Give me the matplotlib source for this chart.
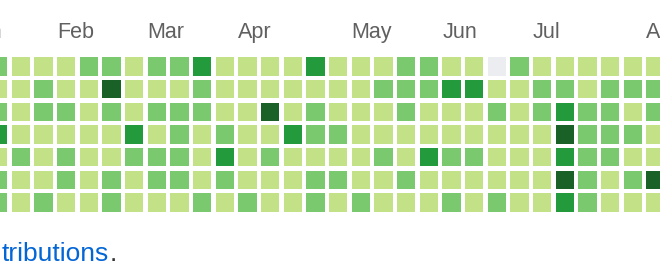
import matplotlib
matplotlib.use("Agg")
import matplotlib.pyplot as plt
import numpy as np

# contribution levels per week column (Sun..Sat rows), 0 = none .. 4 = most
weeks = [
    [2, 1, 2, 3, 1, 2, 2],
    [1, 1, 1, 1, 2, 1, 1],
    [1, 2, 2, 1, 1, 1, 2],
    [1, 1, 2, 1, 2, 2, 1],
    [2, 1, 1, 1, 1, 1, 1],
    [2, 4, 2, 1, 1, 2, 2],
    [1, 1, 1, 3, 2, 1, 1],
    [2, 1, 2, 1, 2, 2, 1],
    [2, 1, 2, 2, 2, 2, 1],
    [3, 2, 2, 1, 1, 1, 2],
    [1, 1, 1, 2, 3, 2, 1],
    [1, 1, 1, 1, 1, 1, 2],
    [1, 1, 4, 1, 2, 1, 1],
    [1, 1, 1, 3, 1, 1, 1],
    [3, 1, 2, 2, 1, 2, 2],
    [1, 1, 1, 2, 1, 2, 1],
    [1, 1, 1, 1, 1, 1, 2],
    [1, 2, 1, 1, 2, 1, 1],
    [2, 2, 2, 1, 1, 2, 1],
    [2, 2, 1, 1, 3, 1, 1],
    [1, 3, 1, 1, 2, 1, 2],
    [1, 3, 1, 1, 2, 1, 1],
    [0, 1, 2, 1, 1, 1, 2],
    [2, 1, 1, 1, 1, 1, 1],
    [1, 2, 2, 1, 1, 1, 1],
    [1, 2, 3, 4, 3, 4, 3],
    [1, 1, 2, 2, 2, 2, 2],
    [1, 2, 2, 2, 2, 1, 1],
    [1, 2, 1, 2, 1, 2, 1],
    [1, 2, 2, 1, 1, 4, 1],
]
month_labels = ["Jan", "Feb", "Mar", "Apr", "May", "Jun", "Jul", "Aug"]
month_weeks = [-0.95, 3, 7, 11, 16, 20, 24, 29]
level_colors = ["#ebedf0", "#c3e287", "#7bc96f", "#239a3b", "#196127"]

fig = plt.figure(figsize=(6.6, 2.8), dpi=100)
ax = fig.add_axes([0, 0, 1, 1])
ax.set_xlim(0.485, 29.603)
ax.set_ylim(9.825, -2.53)
ax.axis("off")

levels = np.array(weeks)
cols, rows = np.meshgrid(np.arange(levels.shape[0]), np.arange(levels.shape[1]), indexing="ij")
cell = 0.81
ax.bar(cols.ravel(), cell, width=cell, bottom=rows.ravel(), align="edge",
       color=[level_colors[v] for v in levels.ravel()], linewidth=0)

for lab, wk in zip(month_labels, month_weeks):
    ax.text(wk, -0.85, lab, ha="left", va="baseline", fontsize=15.5,
            family="Liberation Sans", color="#606060")

t = ax.text(0.003, 0.068, "tributions", transform=ax.transAxes, ha="left",
            va="baseline", fontsize=19, family="Liberation Sans", color="#0366d6")
ax.annotate(".", xy=(1, 0), xycoords=t, ha="left", va="bottom", fontsize=19,
            family="Liberation Sans", color="#333333")

fig.savefig("out.png", dpi=100)
